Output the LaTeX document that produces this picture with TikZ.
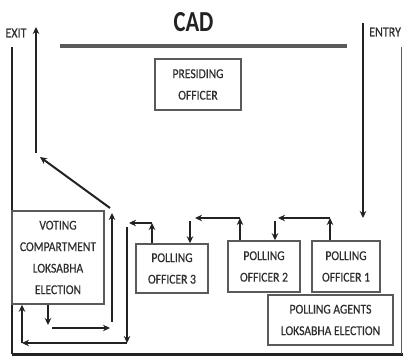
\documentclass[tikz,border=0pt]{standalone}
\usepackage{fontspec}
\setmainfont{Carlito}[FakeStretch=0.86,FakeBold=0.5]
\newfontfamily\cadfont{Carlito}[FakeStretch=0.78]
\usetikzlibrary{arrows.meta}
\definecolor{ink}{HTML}{222222}
\definecolor{boxgray}{HTML}{5A5A5A}
\definecolor{txt}{HTML}{2E2E2E}
\begin{document}
\begin{tikzpicture}[x=1pt,y=-1pt,
  box/.style={draw=boxgray, line width=1.5pt, align=center, inner sep=0pt,
    font=\fontsize{13.5}{21.5}\selectfont, text=txt},
  arr/.style={draw=ink, line width=2pt, -{Stealth[length=7pt,width=6.5pt]}},
  wall/.style={draw=ink, line width=2pt},
  lbl/.style={font=\fontsize{14}{14}\selectfont, text=txt, inner sep=0pt}]
\useasboundingbox (0,0) rectangle (403,361);

% title and top bar
\node[font=\cadfont\bfseries\fontsize{29}{30}\selectfont, text=ink, inner sep=0pt] (cad) at (193.5,22) {CAD};
\coordinate (barL) at (60,46);
\coordinate (barR) at (347,46);
\draw[draw=boxgray, line width=4pt] (barL) -- (barR);

% labels
\node[lbl] (exit) at (16,33) {EXIT};
\node[lbl, anchor=west] (entry) at (369,32) {ENTRY};

% walls
\coordinate (wallLT) at (12,47);
\coordinate (wallLB) at (12,354);
\coordinate (wallRB) at (403,354);
\coordinate (wallRT) at (401.5,47);
\draw[wall] (wallLT) -- (wallLB);
\draw[wall, line width=3pt] (wallLB) -- (wallRB);
\draw[wall, draw=boxgray, line width=1.2pt] (wallRT) -- (401.5,354);

% boxes
\node[box, minimum width=86pt, minimum height=51pt] (pres) at (198,84.5) {PRESIDING\\OFFICER};
\node[box, minimum width=92pt, minimum height=93pt] (vote) at (58,257.5) {VOTING\\COMPARTMENT\\LOKSABHA\\ELECTION};
\node[box, minimum width=72pt, minimum height=49pt] (po3) at (172,268.5) {POLLING\\OFFICER 3};
\node[box, minimum width=72pt, minimum height=51pt] (po2) at (264,266.5) {POLLING\\OFFICER 2};
\node[box, minimum width=68pt, minimum height=51pt] (po1) at (346,266.5) {POLLING\\OFFICER 1};
\node[box, minimum width=125pt, minimum height=50pt, fill=white] (agents) at (330.5,320) {POLLING AGENTS\\LOKSABHA ELECTION};

% entry
\coordinate (en1) at (363,23);
\coordinate (en2) at (363,218);
\draw[arr, line width=1.8pt] (en1) -- (en2);

% PO1 -> PO2
\coordinate (c1) at (330,218);
\coordinate (c2) at (278,218);
\coordinate (c3) at (275,221);
\draw[arr] (c1 |- po1.north) -- (c1);
\draw[arr] (c1) -- (c2);
\draw[arr] (c3) -- (c3 |- po2.north);

% PO2 -> PO3
\coordinate (c4) at (240,218);
\coordinate (c5) at (195,218);
\coordinate (c6) at (190,221);
\draw[arr] (c4 |- po2.north) -- (c4);
\draw[arr] (c4) -- (c5);
\draw[arr] (c6) -- (c6 |- po3.north);

% PO3 -> voting compartment
\coordinate (c7) at (152,223);
\coordinate (c8) at (129,223);
\coordinate (c9) at (127,227);
\coordinate (c10) at (127,343);
\coordinate (c11) at (22,343);
\draw[arr] (c7 |- po3.north) -- (c7);
\draw[arr] (c7) -- (c8);
\draw[arr] (c9) -- (c10);
\draw[arr] (c10) -- (c11);
\draw[arr] (c11) -- (c11 |- vote.south);

% voting compartment -> exit
\coordinate (d1) at (48,325);
\coordinate (d2) at (52,328);
\coordinate (d3) at (110,328);
\coordinate (d4) at (112,322);
\coordinate (d5) at (112,213);
\coordinate (d6) at (110,208);
\coordinate (d7) at (40,157);
\coordinate (d8) at (36,153);
\coordinate (d9) at (36,27);
\draw[arr] (d1 |- vote.south) -- (d1);
\draw[arr] (d2) -- (d3);
\draw[arr] (d4) -- (d5);
\draw[arr] (d6) -- (d7);
\draw[arr, line width=1.8pt] (d8) -- (d9);
\end{tikzpicture}
\end{document}
